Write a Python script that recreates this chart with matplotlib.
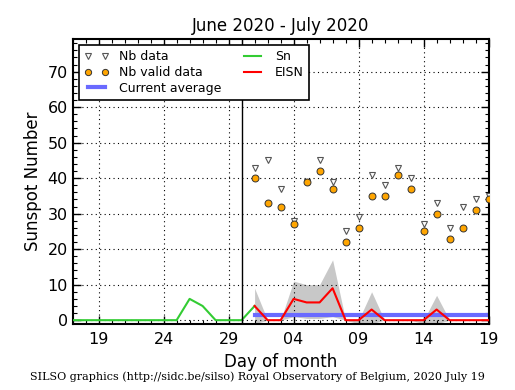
import numpy as np
import matplotlib
matplotlib.use("Agg")
import matplotlib.pyplot as plt
from matplotlib.ticker import MultipleLocator, FixedLocator

# day numbers counted from June 1 (so July 1 = 31)
sn_days = list(range(17, 32))
sn_vals = [0, 0, 0, 0, 0, 0, 0, 0, 0, 6, 4, 0, 0, 0, 4]

july_days = list(range(31, 50))
nb_data = [43, 45, 37, 28, 39, 45, 39, 25, 29, 41, 38, 43, 40, 27, 33, 26, 32, 34, 35]
nb_valid = [40, 33, 32, 27, 39, 42, 37, 22, 26, 35, 35, 41, 37, 25, 30, 23, 26, 31, 34]
eisn = [4, 0, 0, 6, 5, 5, 9, 0, 0, 3, 0, 0, 0, 0, 3, 0, 0, 0, 0]
eisn_hi = [9, 0, 0, 11, 10, 10, 17, 0, 0, 8, 0, 0, 0, 0, 7, 0, 0, 0, 0]
eisn_lo = [-1, 0, 0, 1, 0.5, 0.5, 1, 0, -1, -1, 0, 0, 0, -1, -1, 0, 0, 0, 0]
current_avg = 1.6

tick_pos = [19, 24, 29, 34, 39, 44, 49]
tick_labels = ["19", "24", "29", "04", "09", "14", "19"]

fig = plt.figure(figsize=(5.15, 3.9), dpi=100)
ax = fig.add_axes([0.141, 0.169, 0.809, 0.731])

ax.fill_between(july_days, eisn_lo, eisn_hi, color="#c8c8c8", lw=0, zorder=1)
ax.plot(july_days, [current_avg] * len(july_days), color="#6a6aff", lw=3, zorder=2, label="Current average")
ax.plot(sn_days, sn_vals, color="#33cc33", lw=1.5, zorder=3, label="Sn")
ax.plot(july_days, eisn, color="red", lw=1.5, zorder=4, label="EISN")
ax.plot(july_days, nb_data, "v", ls="none", mfc="white", mec="#555555", ms=4.5, mew=0.8, zorder=5, label="Nb data")
ax.plot(july_days, nb_valid, "o", ls="none", mfc="#ffa500", mec="#333333", ms=5, mew=0.7, zorder=6, label="Nb valid data")
ax.axvline(30, color="black", lw=1, zorder=3)

ax.set_xlim(17, 49.05)
ax.set_ylim(-1.1, 79.2)
ax.xaxis.set_major_locator(FixedLocator(tick_pos))
ax.set_xticklabels(tick_labels)
ax.xaxis.set_minor_locator(MultipleLocator(1))
ax.yaxis.set_major_locator(MultipleLocator(10))
ax.yaxis.set_minor_locator(MultipleLocator(2))
ax.tick_params(which="both", direction="in", top=True, right=True, labelsize=11.5)
ax.tick_params(which="major", length=6, width=1)
ax.tick_params(which="minor", length=3, width=0.8)
ax.tick_params(axis="x", pad=6)
ax.grid(True, which="major", color="black", ls=(0, (1, 3)), lw=0.8)
for s in ax.spines.values():
    s.set_linewidth(1.5)

ax.set_title("June 2020 - July 2020", fontsize=12, pad=6)
ax.set_xlabel("Day of month", fontsize=12, labelpad=4)
ax.set_ylabel("Sunspot Number", fontsize=12, labelpad=4)

h, l = ax.get_legend_handles_labels()
order = [3, 4, 0, 1, 2]
leg = ax.legend([h[i] for i in order], [l[i] for i in order], loc="upper left", ncol=2,
                fontsize=9, numpoints=2, markerscale=0.9, fancybox=False, framealpha=1,
                edgecolor="black", borderaxespad=0.5, handlelength=2.0, handletextpad=0.8,
                columnspacing=1.5, labelspacing=0.22)
leg.get_frame().set_linewidth(1.2)

fig.text(0.5, 0.025, "SILSO graphics (http://sidc.be/silso) Royal Observatory of Belgium, 2020 July 19",
         ha="center", fontsize=8, family="DejaVu Serif")

fig.savefig("out.png", dpi=100)
